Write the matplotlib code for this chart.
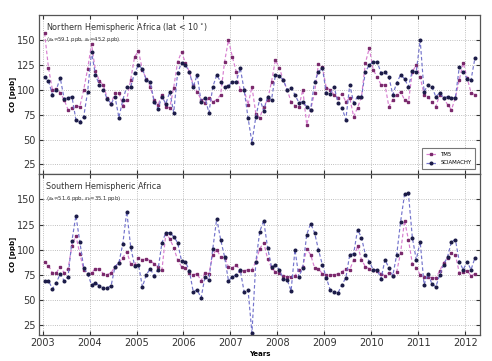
import matplotlib
matplotlib.use("Agg")
import matplotlib.pyplot as plt
import numpy as np

# ---- data (monthly, Jan 2003 - Mar 2012) ----
start_year = 2003
tm5_nh = [157, 122, 100, 101, 97, 90, 80, 82, 84, 83, 100, 121,
          146, 119, 109, 105, 92, 86, 97, 97, 84, 90, 110, 133,
          139, 120, 111, 103, 90, 85, 95, 83, 82, 102, 128, 138,
          127, 118, 105, 98, 90, 87, 92, 88, 90, 95, 128, 150,
          133, 118, 100, 100, 85, 103, 76, 72, 83, 90, 108, 130,
          122, 110, 100, 88, 84, 83, 100, 65, 80, 97, 126, 123,
          102, 100, 95, 92, 96, 88, 92, 73, 82, 93, 127, 142,
          120, 113, 105, 105, 83, 90, 95, 98, 90, 88, 118, 125,
          113, 95, 93, 88, 83, 95, 92, 85, 80, 92, 110, 127,
          112, 97, 95]
scia_nh = [113, 109, 95, 100, 112, 91, 92, 93, 70, 68, 73, 98,
           138, 115, 105, 100, 91, 86, 93, 72, 90, 103, 103, 117,
           125, 121, 110, 108, 88, 81, 93, 86, 98, 77, 117, 127,
           125, 118, 103, 115, 88, 92, 77, 103, 115, 108, 103, 104,
           108, 108, 122, 100, 72, 47, 73, 91, 79, 93, 90, 115,
           114, 110, 100, 102, 95, 87, 88, 83, 80, 108, 118, 122,
           97, 96, 103, 87, 82, 70, 105, 87, 93, 93, 118, 125,
           128, 128, 117, 118, 113, 95, 107, 115, 111, 103, 119, 118,
           150, 98, 105, 103, 93, 97, 92, 93, 92, 92, 123, 118,
           111, 110, 132]
tm5_sh = [88, 84, 77, 77, 83, 77, 81, 104, 114, 96, 80, 76,
          77, 81, 81, 76, 75, 77, 83, 87, 92, 98, 86, 85,
          92, 90, 91, 89, 86, 83, 80, 116, 111, 102, 90, 83,
          82, 77, 75, 76, 69, 77, 76, 95, 100, 93, 92, 83,
          82, 85, 79, 79, 80, 80, 88, 101, 107, 91, 82, 78,
          77, 74, 73, 73, 74, 80, 83, 101, 95, 82, 81, 76,
          75, 75, 75, 76, 78, 81, 80, 90, 104, 90, 83, 81,
          80, 79, 76, 74, 77, 74, 78, 97, 129, 110, 86, 82,
          75, 73, 73, 72, 72, 79, 87, 92, 97, 95, 77, 78,
          79, 74, 76]
scia_sh = [69, 69, 61, 67, 76, 69, 73, 109, 134, 108, 82, 76,
           65, 67, 64, 62, 62, 64, 83, 87, 106, 138, 103, 84,
           85, 63, 75, 81, 74, 80, 107, 117, 117, 113, 107, 89,
           88, 79, 58, 60, 52, 73, 70, 101, 131, 110, 93, 69,
           73, 75, 80, 58, 60, 17, 88, 118, 129, 102, 83, 85,
           80, 71, 70, 59, 100, 73, 82, 115, 126, 117, 100, 85,
           72, 60, 58, 57, 65, 72, 95, 96, 120, 112, 95, 88,
           80, 80, 71, 90, 82, 74, 95, 128, 155, 156, 112, 90,
           108, 65, 76, 66, 63, 75, 85, 93, 108, 110, 88, 80,
           88, 80, 92]
titles = ["Northern Hemispheric Africa (lat < 10$^\\circ$)", "Southern Hemispheric Africa"]
subtitles = ["($\\epsilon_a$=59.1 ppb, $\\epsilon_b$=45.2 ppb)",
             "($\\epsilon_a$=51.6 ppb, $\\epsilon_b$=35.1 ppb)"]
year_ticks = list(range(2003, 2013))
y_ticks = [25, 50, 75, 100, 125, 150]

n = len(tm5_nh)
t = start_year + (np.arange(n) + 0.5) / 12.0

fig = plt.figure(figsize=(4.92, 3.61), dpi=100)
ax1 = fig.add_axes([0.079, 0.517, 0.897, 0.441])
ax2 = fig.add_axes([0.079, 0.072, 0.897, 0.445], sharex=ax1)

tm5_line = '#d77fd0'
tm5_mark = '#7a2a6c'
sci_line = '#7474cc'
sci_mark = '#1c1c48'

for ax, tm, sc, title, sub in [(ax1, tm5_nh, scia_nh, titles[0], subtitles[0]),
                               (ax2, tm5_sh, scia_sh, titles[1], subtitles[1])]:
    ax.plot(t, tm, linestyle='--', color=tm5_line, lw=0.85, marker='s', ms=2.1,
            mfc=tm5_mark, mec=tm5_mark, label='TM5', dashes=(3, 2))
    ax.plot(t, sc, linestyle='--', color=sci_line, lw=0.85, marker='o', ms=1.9,
            mfc=sci_mark, mec=sci_mark, label='SCIAMACHY', dashes=(3, 2))
    ax.set_ylim(15, 175)
    ax.set_yticks(y_ticks)
    ax.grid(True, linestyle=':', color='#aaaaaa', lw=0.6)
    ax.tick_params(direction='in', labelsize=7, length=3, top=True, right=True,
                   colors='#333333', labelcolor='#333333', pad=2.5)
    for s in ax.spines.values():
        s.set_color('#555555')
        s.set_linewidth(0.9)
    ax.text(0.016, 0.925, title, transform=ax.transAxes, fontsize=5.8,
            color='#333333', va='center', ha='left')
    ax.text(0.016, 0.85, sub, transform=ax.transAxes, fontsize=3.8,
            color='#333333', va='center', ha='left')
    ax.set_ylabel('CO [ppb]', fontsize=5, fontweight='bold')
    ax.yaxis.set_label_coords(-0.052, 0.5)

ax1.set_xlim(2002.92, 2012.32)
ax1.set_xticks(year_ticks)
plt.setp(ax1.get_xticklabels(), visible=False)
ax2.set_xticklabels([str(y) for y in year_ticks])
ax2.set_xlabel('Years', fontsize=5, fontweight='bold', labelpad=1.5)

leg = ax1.legend(loc='lower right', fontsize=3.9, frameon=True, fancybox=False,
                 handlelength=1.8, borderpad=0.7, labelspacing=0.6,
                 bbox_to_anchor=(0.995, 0.015))
leg.get_frame().set_edgecolor('#555555')
leg.get_frame().set_linewidth(0.8)

fig.savefig('out.png', dpi=100)
